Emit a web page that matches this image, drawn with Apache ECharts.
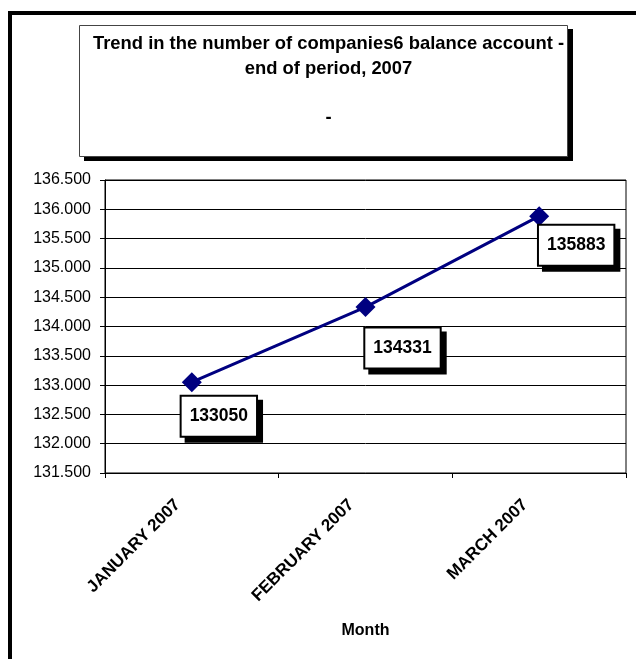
<!DOCTYPE html>
<html>
<head>
<meta charset="utf-8">
<script src="https://cdn.jsdelivr.net/npm/echarts@6/dist/echarts.min.js"></script>
<style>
html,body{margin:0;padding:0;background:#fff;}
#chart{width:636px;height:659px;}
</style>
</head>
<body>
<div id="chart"></div>
<script>
const categories = ['JANUARY 2007', 'FEBRUARY 2007', 'MARCH 2007'];
const companies = [133050, 134331, 135883];
const yTicks = { min: 131500, max: 136500, step: 500 };
const titleLines = ['Trend in the number of companies6 balance account -', 'end of period, 2007', '', '-'];
const axisName = 'Month';

const labelOffsets = [[27, 34], [37, 41], [37, 29]];
const FONT = "'Liberation Sans', Arial, sans-serif";

const chart = echarts.init(document.getElementById('chart'), null, { renderer: 'canvas' });

const option = {
  backgroundColor: '#fff',
  animation: false,
  graphic: [
    { type: 'rect', shape: { x: 8, y: 11, width: 640, height: 4 }, style: { fill: '#000' }, z: 0 },
    { type: 'rect', shape: { x: 8, y: 11, width: 4, height: 660 }, style: { fill: '#000' }, z: 0 },
    { type: 'rect', shape: { x: 84, y: 29, width: 489, height: 132 }, style: { fill: '#000' }, z: 0 },
    {
      type: 'rect',
      shape: { x: 79.5, y: 25.5, width: 488, height: 131 },
      style: { fill: '#fff', stroke: '#444', lineWidth: 1 },
      z: 1
    }
  ],
  title: {
    text: titleLines.join('\n'),
    left: 323.5,
    top: 27,
    textAlign: 'center',
    textStyle: { fontFamily: FONT, fontWeight: 'bold', fontSize: 18.4, lineHeight: 24.5, color: '#000' },
    z: 5
  },
  grid: {
    left: 105, top: 180, right: 10, bottom: 186,
    show: true, borderColor: '#000', borderWidth: 1, backgroundColor: 'transparent'
  },
  xAxis: {
    type: 'category',
    data: categories,
    boundaryGap: true,
    name: axisName,
    nameLocation: 'middle',
    nameGap: 150,
    nameTextStyle: { fontFamily: FONT, fontWeight: 'bold', fontSize: 16, color: '#000' },
    axisLine: { show: true, lineStyle: { color: '#000', width: 1 } },
    axisTick: { show: true, length: 5, lineStyle: { color: '#000' } },
    axisLabel: {
      rotate: 45, margin: 15, interval: 0,
      padding: [0, 20, 0, 0],
      fontFamily: FONT, fontWeight: 'bold', fontSize: 17, color: '#000'
    },
    splitLine: { show: false }
  },
  yAxis: {
    type: 'value',
    min: yTicks.min, max: yTicks.max, interval: yTicks.step,
    axisLine: { show: true, lineStyle: { color: '#000', width: 1 } },
    axisTick: { show: true, length: 5, lineStyle: { color: '#000' } },
    axisLabel: {
      margin: 14,
      fontFamily: FONT, fontSize: 16, color: '#000',
      formatter: v => (v / 1000).toFixed(3)
    },
    splitLine: { show: true, lineStyle: { color: '#000', width: 1 } }
  },
  series: [{
    type: 'line',
    data: companies.map((v, i) => ({
      value: v,
      label: { offset: labelOffsets[i] }
    })),
    lineStyle: { color: '#000080', width: 3 },
    itemStyle: { color: '#000080' },
    symbol: 'diamond',
    symbolSize: 20,
    label: {
      show: true,
      position: 'inside',
      fontFamily: FONT, fontWeight: 'bold', fontSize: 17.5, color: '#000',
      backgroundColor: '#fff',
      borderColor: '#000', borderWidth: 2,
      padding: [11, 8, 10, 8],
      shadowColor: '#000', shadowOffsetX: 5, shadowOffsetY: 5, shadowBlur: 0,
      formatter: p => String(p.value)
    },
    z: 3
  }]
};
chart.setOption(option);
</script>
</body>
</html>
